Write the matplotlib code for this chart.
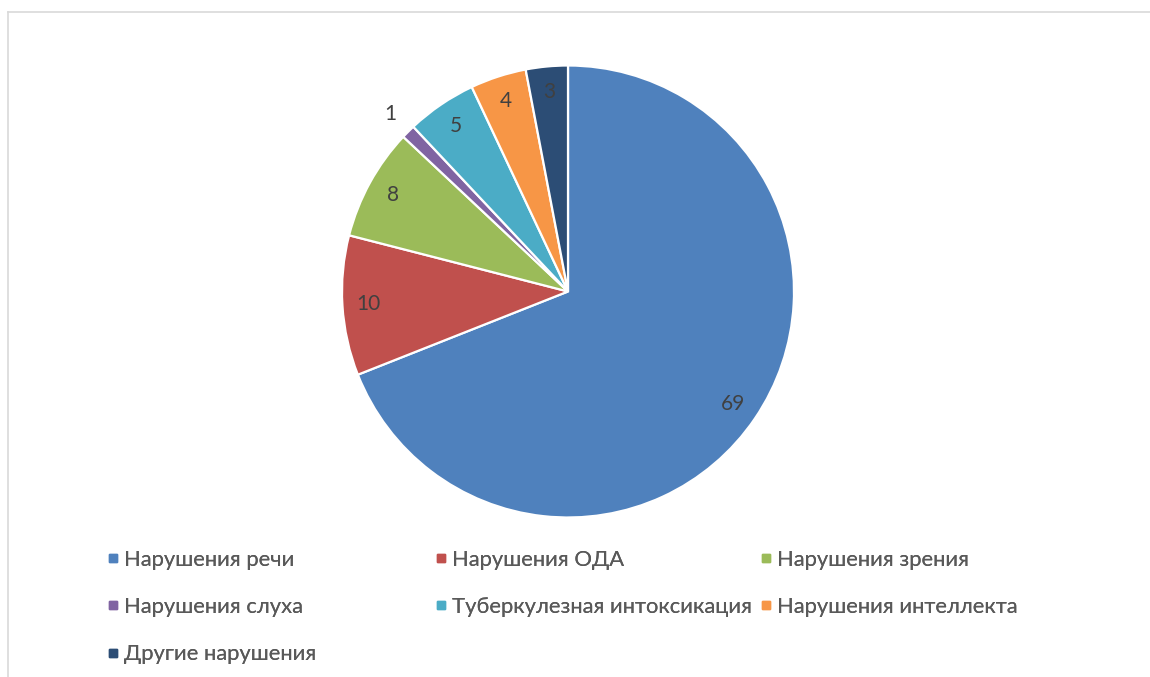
import matplotlib
matplotlib.use("Agg")
import matplotlib.pyplot as plt
from matplotlib.lines import Line2D
import numpy as np

categories = ["Нарушения речи", "Нарушения ОДА", "Нарушения зрения", "Нарушения слуха",
              "Туберкулезная интоксикация", "Нарушения интеллекта", "Другие нарушения"]
values = [69, 10, 8, 1, 5, 4, 3]
colors = ["#4F81BD", "#C0504D", "#9BBB59", "#8064A2", "#4BACC6", "#F79646", "#2C4D75"]

W, H = 1150, 677
fig = plt.figure(figsize=(W / 100, H / 100), dpi=100)
plt.rcParams['font.family'] = ['Lato', 'DejaVu Sans']

# pie axes: center at (568, 291.5) px from top, radius 226 px
R = 226.0
cx, cy = 568.0, H - 291.5
half = 250.0
ax = fig.add_axes([(cx - half) / W, (cy - half) / H, 2 * half / W, 2 * half / H])
wedges, _ = ax.pie(values, colors=colors, startangle=90, counterclock=False, radius=1.0,
                   wedgeprops=dict(edgecolor="white", linewidth=1.6))
lim = half / R
ax.set_xlim(-lim, lim)
ax.set_ylim(-lim, lim)
ax.set_aspect("equal")
ax.axis("off")

for w, v in zip(wedges, values):
    ang = np.deg2rad((w.theta1 + w.theta2) / 2)
    d = 0.885 if v > 2 else 1.11
    ax.text(d * np.cos(ang), d * np.sin(ang), str(v), ha="center", va="center",
            fontsize=15, color="#404040")

# frame lines (top and left)
fig.add_artist(Line2D([8 / W, 1.0], [1 - 11.5 / H, 1 - 11.5 / H], transform=fig.transFigure,
                      color="#D9D9D9", linewidth=1.2))
fig.add_artist(Line2D([8 / W, 8 / W], [0, 1 - 11.5 / H], transform=fig.transFigure,
                      color="#D9D9D9", linewidth=1.2))

def handle(c):
    return Line2D([], [], marker="s", linestyle="", color=c, markersize=6)

columns = [[0, 3, 6], [1, 4], [2, 5]]
col_x = [108, 436, 761]
for xs, idx in zip(col_x, columns):
    leg = fig.legend([handle(colors[i]) for i in idx], [categories[i] for i in idx],
                     loc="upper left", bbox_to_anchor=(xs / W, 1 - 549.5 / H),
                     frameon=False, fontsize=15.8, labelcolor="#595959",
                     handlelength=0.5, handletextpad=0.25, labelspacing=1.25,
                     borderpad=0, borderaxespad=0)
    fig.add_artist(leg)

fig.savefig("out.png", dpi=100, facecolor="white")
